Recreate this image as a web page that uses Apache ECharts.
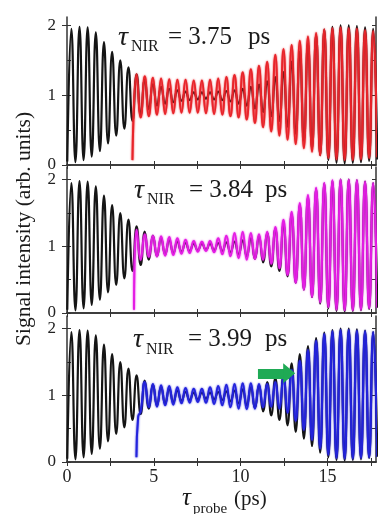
<!DOCTYPE html>
<html>
<head>
<meta charset="utf-8">
<script src="https://cdn.jsdelivr.net/npm/echarts@6/dist/echarts.min.js"></script>
<style>
  html, body { margin: 0; padding: 0; background: #fff; }
  #main { width: 378px; height: 514px; }
</style>
</head>
<body>
<div id="main"></div>
<script>
// extrema of the oscillations
// sampling grid: one point every half period (0.235 ps), first black trough at 0.015 ps
var HALF = 0.235;
var T0 = 0.015;

var xTicks = [0, 2.5, 5, 7.5, 10, 12.5, 15, 17.5];
var xLabels = [0, 5, 10, 15];
var yTicks = [0, 0.5, 1, 1.5, 2];
var yLabels = [0, 1, 2];
var tauNIR = ['3.75', '3.84', '3.99'];

// reference signal (black), grid index 0..76
var blackVals = [
  0.05, 1.95, 0.04, 1.98, 0.07, 1.97, 0.12, 1.90, 0.20, 1.76,
  0.31, 1.62, 0.42, 1.50, 0.52, 1.40, 0.63, 1.30, 0.72, 1.22,
  0.80, 1.16, 0.85, 1.12, 0.88, 1.09, 0.90, 1.07, 0.92, 1.05,
  0.93, 1.04, 0.94, 1.04, 0.95, 1.04, 0.94, 1.05, 0.93, 1.06,
  0.91, 1.07, 0.88, 1.09, 0.85, 1.12, 0.81, 1.15, 0.76, 1.20,
  0.70, 1.26, 0.63, 1.33, 0.55, 1.48, 0.45, 1.62, 0.35, 1.74,
  0.24, 1.86, 0.14, 1.94, 0.07, 1.98, 0.03, 2.00, 0.02, 2.00,
  0.03, 1.99, 0.04, 1.97, 0.06, 1.95, 0.08
];

// tau_NIR = 3.75 ps (red), starts at grid index 17
var redStart = [[3.77, 0.07]];
var redVals = [
  1.30, 0.68, 1.27, 0.70, 1.25, 0.72, 1.24, 0.73, 1.23, 0.74,
  1.22, 0.75, 1.22, 0.75, 1.21, 0.75, 1.21, 0.74, 1.22, 0.73,
  1.24, 0.72, 1.26, 0.70, 1.29, 0.68, 1.33, 0.65, 1.37, 0.60,
  1.42, 0.54, 1.48, 0.48, 1.58, 0.42, 1.66, 0.36, 1.72, 0.30,
  1.78, 0.24, 1.84, 0.19, 1.89, 0.14, 1.94, 0.10, 1.96, 0.08,
  1.97, 0.07, 1.96, 0.07, 1.95, 0.08, 1.93, 0.10, 1.92, 0.11
];

// tau_NIR = 3.84 ps (magenta), starts at grid index 17
var magStart = [[3.86, 0.05]];
var magVals = [
  1.25, 0.80, 1.18, 0.84, 1.16, 0.85, 1.15, 0.86, 1.14, 0.87,
  1.12, 0.89, 1.10, 0.90, 1.08, 0.92, 1.07, 0.93, 1.08, 0.91,
  1.12, 0.88, 1.16, 0.85, 1.20, 0.82, 1.22, 0.80, 1.20, 0.81,
  1.18, 0.80, 1.22, 0.74, 1.29, 0.67, 1.40, 0.57, 1.52, 0.45,
  1.65, 0.35, 1.77, 0.24, 1.88, 0.16, 1.95, 0.09, 1.99, 0.05,
  2.00, 0.04, 2.00, 0.04, 1.99, 0.05, 1.97, 0.07, 1.95, 0.08
];

// tau_NIR = 3.99 ps (blue), starts at grid index 18
var blueStart = [[4.0, 0.07], [4.1, 0.68]];
var blueVals = [
  0.76, 1.20, 0.82, 1.17, 0.83, 1.15, 0.85, 1.14, 0.86, 1.12,
  0.88, 1.11, 0.89, 1.10, 0.90, 1.10, 0.89, 1.12, 0.87, 1.14,
  0.85, 1.16, 0.82, 1.17, 0.80, 1.18, 0.79, 1.18, 0.80, 1.17,
  0.82, 1.17, 0.83, 1.20, 0.80, 1.28, 0.74, 1.38, 0.62, 1.52,
  0.48, 1.68, 0.33, 1.82, 0.20, 1.92, 0.11, 1.96, 0.06, 1.98,
  0.05, 1.98, 0.05, 1.97, 0.06, 1.96, 0.07, 1.95, 0.08
];

// green arrow in the lower panel (data coordinates)
var arrowFrom = [11.0, 1.33];
var arrowTo = [12.8, 1.33];

function onGrid(k0, vals) {
  return vals.map(function (v, i) {
    return [+(T0 + (k0 + i) * HALF).toFixed(3), v];
  });
}

var blackData = onGrid(0, blackVals);
var colored = [
  { color: '#e8242a', data: redStart.concat(onGrid(17, redVals)) },
  { color: '#e41de4', data: magStart.concat(onGrid(17, magVals)) },
  { color: '#2323dc', data: blueStart.concat(onGrid(18, blueVals)) }
];

var serif = 'Liberation Serif';
var frame = { lineStyle: { color: '#333', width: 1.5 } };
var grids = [
  { left: 67, right: 2, top: 17, height: 148 },
  { left: 67, right: 2, top: 167, height: 146 },
  { left: 67, right: 2, top: 316, height: 146 }
];
var yMax = [2.12, 2.19, 2.19];

var xAxes = [], yAxes = [], series = [];
grids.forEach(function (g, p) {
  var last = p === 2;
  xAxes.push({
    type: 'value', gridIndex: p, position: 'bottom', min: 0, max: 17.8,
    axisLine: frame, splitLine: { show: false },
    axisTick: { inside: true, length: 4, customValues: xTicks, lineStyle: { color: '#333' } },
    axisLabel: { show: last, customValues: xLabels, margin: 6,
      fontFamily: serif, fontSize: 18, color: '#222' }
  });
  xAxes.push({
    type: 'value', gridIndex: p, position: 'top', min: 0, max: 17.8,
    axisLine: frame, splitLine: { show: false },
    axisTick: { inside: true, length: 4, customValues: xTicks, lineStyle: { color: '#333' } },
    axisLabel: { show: false }
  });
  yAxes.push({
    type: 'value', gridIndex: p, position: 'left', min: 0, max: yMax[p],
    axisLine: frame, splitLine: { show: false },
    axisTick: { inside: false, length: 5, customValues: yLabels, lineStyle: { color: '#333' } },
    axisLabel: { customValues: yLabels, margin: 11,
      fontFamily: serif, fontSize: 17, color: '#222' }
  });
  yAxes.push({
    type: 'value', gridIndex: p, position: 'left', min: 0, max: yMax[p],
    axisLine: { show: false }, splitLine: { show: false },
    axisTick: { inside: true, length: 4, customValues: yTicks, lineStyle: { color: '#333' } },
    axisLabel: { show: false }
  });
  yAxes.push({
    type: 'value', gridIndex: p, position: 'right', min: 0, max: yMax[p],
    axisLine: frame, splitLine: { show: false },
    axisTick: { inside: true, length: 4, customValues: yTicks, lineStyle: { color: '#333' } },
    axisLabel: { show: false }
  });

  series.push({
    type: 'line', xAxisIndex: 2 * p, yAxisIndex: 3 * p,
    data: blackData, smooth: 0.5, showSymbol: false,
    lineStyle: { color: '#151515', width: 2.2 }, z: 2
  });
  var c = colored[p];
  var s = {
    type: 'line', xAxisIndex: 2 * p, yAxisIndex: 3 * p,
    data: c.data, smooth: 0.5, showSymbol: false,
    lineStyle: { color: c.color, width: 2, shadowColor: c.color, shadowBlur: 2 }, z: 3
  };
  if (last) {
    s.markLine = {
      silent: true, animation: false,
      symbol: ['none', 'triangle'], symbolSize: [20, 12],
      label: { show: false },
      lineStyle: { color: '#1faa55', width: 10, type: 'solid' },
      itemStyle: { color: '#1faa55' },
      data: [[{ coord: arrowFrom }, { coord: arrowTo }]]
    };
  }
  series.push(s);
});

// panel annotations
var labelPos = [
  { tau: [118, 38], nir: [131, 47], num: [168, 37], ps: [248, 37] },
  { tau: [134, 191], nir: [147, 200], num: [189, 190], ps: [265, 190] },
  { tau: [133, 340], nir: [146, 350], num: [188, 339], ps: [265, 339] }
];
function txt(str, x, y, font, extra) {
  var st = { text: str, font: font, fill: '#1a1a1a', textAlign: 'left', textVerticalAlign: 'middle',
    align: 'left', verticalAlign: 'middle' };
  var el = { type: 'text', x: x, y: y, z: 100, style: st };
  if (extra) Object.assign(el, extra);
  return el;
}
var graphics = [];
labelPos.forEach(function (L, p) {
  graphics.push(txt('\u03c4', L.tau[0], L.tau[1], 'italic 28px ' + serif));
  graphics.push(txt('NIR', L.nir[0], L.nir[1], '16px ' + serif));
  graphics.push(txt('= ' + tauNIR[p], L.num[0], L.num[1], '25px ' + serif));
  graphics.push(txt('ps', L.ps[0], L.ps[1], '25px ' + serif));
});
var yTitle = txt('Signal intensity (arb. units)', 24, 229, '21.5px ' + serif, { rotation: Math.PI / 2 });
yTitle.style.textAlign = 'center';
yTitle.style.align = 'center';
graphics.push(yTitle);
graphics.push(txt('\u03c4', 182, 498, 'italic 25px ' + serif));
graphics.push(txt('probe', 193, 509, '15px ' + serif));
graphics.push(txt('(ps)', 234, 499, '21px ' + serif));

var chart = echarts.init(document.getElementById('main'));
chart.setOption({
  animation: false,
  grid: grids,
  xAxis: xAxes,
  yAxis: yAxes,
  series: series,
  graphic: graphics
});
</script>
</body>
</html>
